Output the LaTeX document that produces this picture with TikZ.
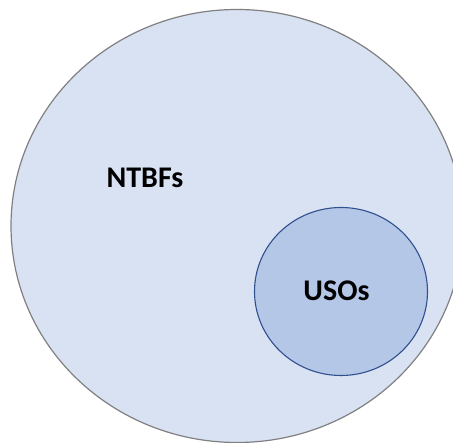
\documentclass[tikz,border=0pt]{standalone}
\usepackage{fontspec}
\setmainfont{Carlito}
\definecolor{outerfill}{HTML}{D9E2F3}
\definecolor{outerline}{HTML}{808080}
\definecolor{innerfill}{HTML}{B4C7E7}
\definecolor{innerline}{HTML}{2F4F8F}
\begin{document}
\begin{tikzpicture}[x=1pt,y=1pt,
  setlabel/.style={font=\fontsize{30}{36}\selectfont\bfseries, text=black, inner sep=0pt}]
  \useasboundingbox (0,0) rectangle (453,443);
  \fill[white] (0,0) rectangle (453,443);
  \clip (0,0) rectangle (453,443);
  % outer set
  \draw[outerline, fill=outerfill, line width=1.2pt] (237,217) ellipse [x radius=226, y radius=216.5];
  % inner set
  \draw[innerline, fill=innerfill, line width=1.1pt] (341,151.5) ellipse [x radius=86.5, y radius=84];
  \node[setlabel] (ntbfs) at (145,265) {NTBFs};
  \node[setlabel] (usos) at (336.5,152) {USOs};
\end{tikzpicture}
\end{document}
